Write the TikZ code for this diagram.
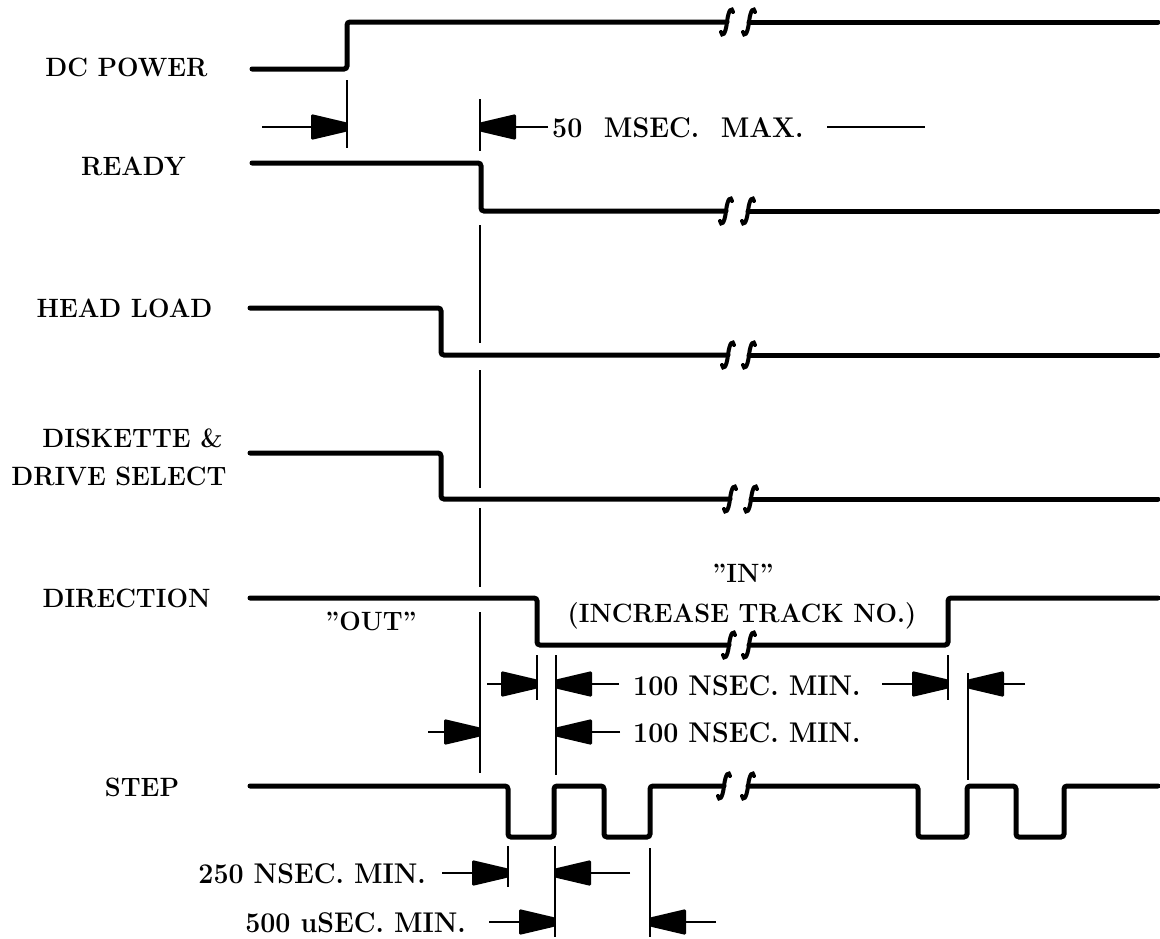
\documentclass[tikz,border=0pt]{standalone}
\usepackage{fontspec}
\newcommand\dimR[2]{\draw[dl] (#1) -- (#2); \pic at (#2) {headR};}
\newcommand\dimL[2]{\draw[dl] (#1) -- (#2); \pic at (#2) {headL};}
\newcommand\lb[1]{\scalebox{0.96}[1]{#1}}
\newcommand\db[1]{\scalebox{0.94}[1]{#1}}
\newcommand\qq{{\addfontfeature{Ligatures=TeXOff}"}}
\begin{document}
\begin{tikzpicture}[x=1pt,y=-1pt,
  sig/.style={line width=5pt, rounded corners=3pt, line cap=round},
  ext/.style={line width=1.8pt},
  dl/.style={line width=1.8pt},
  lab/.style={font=\fontsize{26.5}{30}\selectfont\bfseries, inner sep=0pt, anchor=base},
  dt/.style={font=\fontsize{28.5}{32}\selectfont\bfseries, inner sep=0pt},
  headR/.pic={\fill[rounded corners=1.5pt] (-36,-13) -- (0,-4.5) -- (0,4.5) -- (-36,13) -- cycle;},
  headL/.pic={\fill[rounded corners=1.5pt] (36,-13) -- (0,-4.5) -- (0,4.5) -- (36,13) -- cycle;},
  squig/.pic={\draw[line width=4pt, line cap=round] (-6,10) .. controls (-5,15) and (-1.5,13) .. (0,0) .. controls (1.5,-13) and (5,-15) .. (6,-10);}]
\useasboundingbox (0,0) rectangle (1160,938);

% labels
\node[lab] (dcp) at (126.5,76) {\lb{DC POWER}};
\node[lab] (rdy) at (133.5,175) {\lb{READY}};
\node[lab] (hl) at (124.5,317) {\lb{HEAD LOAD}};
\node[lab] (dsk1) at (132.5,447) {\lb{DISKETTE \&}};
\node[lab] (dsk2) at (119,485) {\lb{DRIVE SELECT}};
\node[lab] (dir) at (126.5,607) {\lb{DIRECTION}};
\node[lab] (stp) at (142,796) {\lb{STEP}};

% signals
\draw[sig] (252,69) -- (347,69) -- (347,22) -- (727,22);
\draw[sig] (749,22) -- (1158,22);
\pic at (727,22) {squig}; \pic at (749,22) {squig};

\draw[sig] (252,163) -- (481,163) -- (481,211) -- (726,211);
\draw[sig] (748,211) -- (1158,211);
\pic at (726,211) {squig}; \pic at (748,211) {squig};

\draw[sig] (250,308) -- (441,308) -- (441,355) -- (728,355);
\draw[sig] (749,355) -- (1158,355);
\pic at (728,355) {squig}; \pic at (749,355) {squig};

\draw[sig] (250,453) -- (441,453) -- (441,499) -- (730,499);
\draw[sig] (751,499) -- (1158,499);
\pic at (730,499) {squig}; \pic at (751,499) {squig};

\draw[sig] (250,598) -- (537,598) -- (537,645) -- (729,645);
\draw[sig] (749,645) -- (948,645) -- (948,598) -- (1158,598);
\pic at (729,645) {squig}; \pic at (749,645) {squig};

\draw[sig] (250,786) -- (508,786) -- (508,837) -- (554,837) -- (554,786) -- (604,786) -- (604,837) -- (650,837) -- (650,786) -- (724,786);
\draw[sig] (748,786) -- (918,786) -- (918,837) -- (967,837) -- (967,786) -- (1016,786) -- (1016,837) -- (1064,837) -- (1064,786) -- (1158,786);
\pic at (724,786) {squig}; \pic at (748,786) {squig};

% extension lines
\draw[ext] (347,80) -- (347,148);
\draw[ext] (480,99) -- (480,151);
\draw[ext] (480,225) -- (480,343);
\draw[ext] (480,370) -- (480,488);
\draw[ext] (480,508) -- (480,587);
\draw[ext] (480,612) -- (480,773);
\draw[ext] (537,655) -- (537,700);
\draw[ext] (556,655) -- (556,775);
\draw[ext] (948,655) -- (948,700);
\draw[ext] (968,673) -- (968,780);
\draw[ext] (508,846) -- (508,887);
\draw[ext] (555,846) -- (555,937);
\draw[ext] (650,848) -- (650,937);

% coordinates for dimension arrows
\coordinate (p1t) at (262,127); \coordinate (p1h) at (347,127);
\coordinate (p2t) at (548,127); \coordinate (p2h) at (480,127);
\coordinate (q1t) at (487,684); \coordinate (q1h) at (537,684);
\coordinate (q2t) at (619,684); \coordinate (q2h) at (556,684);
\coordinate (q3t) at (882,684); \coordinate (q3h) at (948,684);
\coordinate (q4t) at (1025,684); \coordinate (q4h) at (968,684);
\coordinate (r1t) at (428,732); \coordinate (r1h) at (480,732);
\coordinate (r2t) at (620,732); \coordinate (r2h) at (556,732);
\coordinate (s1t) at (442,873); \coordinate (s1h) at (508,873);
\coordinate (s2t) at (630,873); \coordinate (s2h) at (555,873);
\coordinate (u1t) at (489,922); \coordinate (u1h) at (555,922);
\coordinate (u2t) at (716,922); \coordinate (u2h) at (650,922);
\coordinate (m1) at (827,127); \coordinate (m2) at (925,127);

\dimR{p1t}{p1h}
\dimL{p2t}{p2h}
\dimR{q1t}{q1h}
\dimL{q2t}{q2h}
\dimR{q3t}{q3h}
\dimL{q4t}{q4h}
\dimR{r1t}{r1h}
\dimL{r2t}{r2h}
\dimR{s1t}{s1h}
\dimL{s2t}{s2h}
\dimR{u1t}{u1h}
\dimL{u2t}{u2h}
\draw[dl] (m1) -- (m2);

% dimension texts
\node[dt, anchor=base west] (t50) at (552,137) {\db{50\hspace{23pt}MSEC.\hspace{23pt}MAX.}};
\node[dt, anchor=base west] (t100a) at (633,695) {\db{100 NSEC. MIN.}};
\node[dt, anchor=base west] (t100b) at (633,742) {\db{100 NSEC. MIN.}};
\node[dt, anchor=base east] (t250) at (426,883) {\db{250 NSEC. MIN.}};
\node[dt, anchor=base east] (t500) at (466,932) {\db{500 uSEC. MIN.}};

\node[lab] (out) at (371,630) {\lb{\qq OUT\qq}};
\node[lab] (in) at (743,582) {\lb{\qq IN\qq}};
\node[lab] (inc) at (742,622) {\lb{(INCREASE TRACK NO.)}};
\end{tikzpicture}
\end{document}
